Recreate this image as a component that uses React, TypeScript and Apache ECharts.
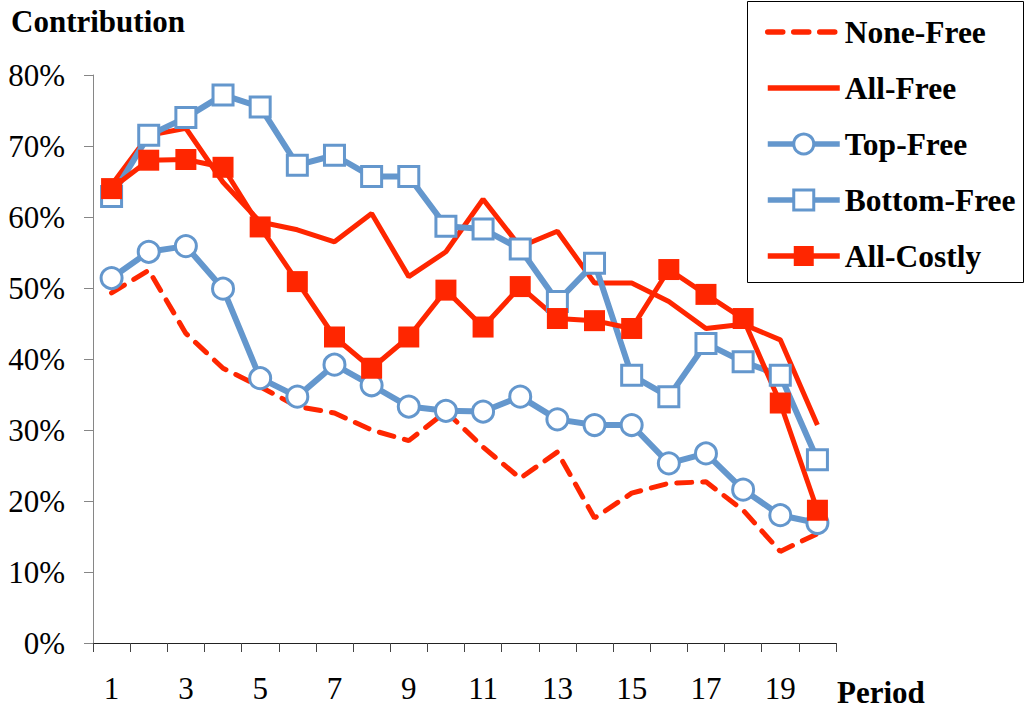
import React, { useEffect, useRef } from "react";
import * as echarts from "echarts";

const periods = ["1","2","3","4","5","6","7","8","9","10","11","12","13","14","15","16","17","18","19","20"];
const yTicks = [0, 10, 20, 30, 40, 50, 60, 70, 80];

const noneFree = [49.3, 52.5, 43.6, 38.7, 36.1, 33.3, 32.4, 30.0, 28.5, 32.6, 27.6, 23.2, 26.9, 17.6, 21.1, 22.5, 22.7, 18.7, 12.9, 15.4];
const allFree = [64.5, 71.5, 72.5, 64.9, 59.3, 58.2, 56.5, 60.5, 51.6, 55.1, 62.5, 55.8, 58.0, 50.7, 50.7, 48.1, 44.3, 44.9, 42.7, 30.7];
const topFree = [51.4, 55.1, 55.9, 49.9, 37.3, 34.7, 39.2, 36.3, 33.3, 32.7, 32.6, 34.7, 31.5, 30.7, 30.7, 25.3, 26.7, 21.6, 18.0, 16.9];
const bottomFree = [62.9, 71.5, 74.0, 77.2, 75.5, 67.3, 68.7, 65.7, 65.7, 58.7, 58.3, 55.5, 48.1, 53.5, 37.7, 34.7, 42.2, 39.6, 37.7, 25.8];
const allCostly = [64.0, 68.0, 68.1, 67.0, 58.6, 50.9, 43.1, 38.7, 43.1, 49.7, 44.5, 50.2, 45.7, 45.4, 44.3, 52.6, 49.1, 45.7, 33.8, 18.7];

const RED = "#FF2600";
const BLUE = "#6497CD";
const FONT = "'Liberation Serif', 'Times New Roman', serif";

export default function App() {
  const ref = useRef<HTMLDivElement>(null);
  useEffect(() => {
    if (!ref.current) return;
    const chart = echarts.init(ref.current, null, { renderer: "svg" });
    chart.setOption({
      animation: false,
      backgroundColor: "#fff",
      grid: { left: 93, right: 190, top: 75, bottom: 70, containLabel: false },
      graphic: [
        {
          type: "rect",
          shape: { x: 747.5, y: 1.5, width: 276, height: 281 },
          style: { fill: "none", stroke: "#000", lineWidth: 1 },
        },
        {
          type: "text",
          left: 11,
          top: 6,
          style: { text: "Contribution", font: `bold 31px ${FONT}`, fill: "#000" },
        },
        {
          type: "text",
          left: 837,
          top: 677,
          style: { text: "Period", font: `bold 31px ${FONT}`, fill: "#000" },
        },
      ],
      legend: {
        orient: "vertical",
        left: 765,
        top: 16,
        padding: 0,
        itemWidth: 72,
        itemHeight: 25,
        itemGap: 24,
        lineStyle: { width: 5.5 },
        textStyle: { fontFamily: FONT, fontWeight: "bold", fontSize: 31.5, color: "#000", lineHeight: 30 },
        data: [
          { name: "None-Free", itemStyle: { opacity: 0 } },
          { name: "All-Free", itemStyle: { opacity: 0 } },
          { name: "Top-Free", itemStyle: { borderWidth: 3 } },
          { name: "Bottom-Free", itemStyle: { borderWidth: 3 } },
          { name: "All-Costly" },
        ],
      },
      xAxis: {
        type: "category",
        data: periods,
        boundaryGap: true,
        axisLine: { show: true, lineStyle: { color: "#222", width: 1 } },
        axisTick: { show: true, interval: 0, length: 9, lineStyle: { color: "#444" } },
        axisLabel: {
          interval: 1,
          margin: 30,
          fontFamily: FONT,
          fontSize: 31,
          color: "#000",
        },
        splitLine: { show: false },
      },
      yAxis: {
        type: "value",
        min: 0,
        max: 80,
        interval: 10,
        axisLine: { show: true, lineStyle: { color: "#868686", width: 1 } },
        axisTick: { show: true, length: 9, lineStyle: { color: "#868686" } },
        axisLabel: {
          margin: 28,
          fontFamily: FONT,
          fontSize: 31,
          color: "#000",
          padding: [4, 0, 0, 0],
          formatter: (v: number) => (yTicks.includes(v) ? `${v}%` : ""),
        },
        splitLine: { show: false },
      },
      series: [
        {
          name: "None-Free",
          type: "line",
          data: noneFree,
          symbol: "none",
          lineStyle: { color: RED, width: 5, type: [15, 11], cap: "round" },
          itemStyle: { color: RED },
        },
        {
          name: "All-Free",
          type: "line",
          data: allFree,
          symbol: "none",
          lineStyle: { color: RED, width: 5 },
          itemStyle: { color: RED },
        },
        {
          name: "Top-Free",
          type: "line",
          data: topFree,
          symbol: "circle",
          symbolSize: 21,
          lineStyle: { color: BLUE, width: 6 },
          itemStyle: { color: "#fff", borderColor: BLUE, borderWidth: 3 },
        },
        {
          name: "Bottom-Free",
          type: "line",
          data: bottomFree,
          symbol: "rect",
          symbolSize: 20,
          lineStyle: { color: BLUE, width: 6 },
          itemStyle: { color: "#fff", borderColor: BLUE, borderWidth: 3 },
        },
        {
          name: "All-Costly",
          type: "line",
          data: allCostly,
          symbol: "rect",
          symbolSize: 21,
          lineStyle: { color: RED, width: 5 },
          itemStyle: { color: RED },
        },
      ],
    });
    return () => chart.dispose();
  }, []);
  return <div ref={ref} style={{ width: 1026, height: 713, position: "absolute", left: 0, top: 0 }} />;
}
